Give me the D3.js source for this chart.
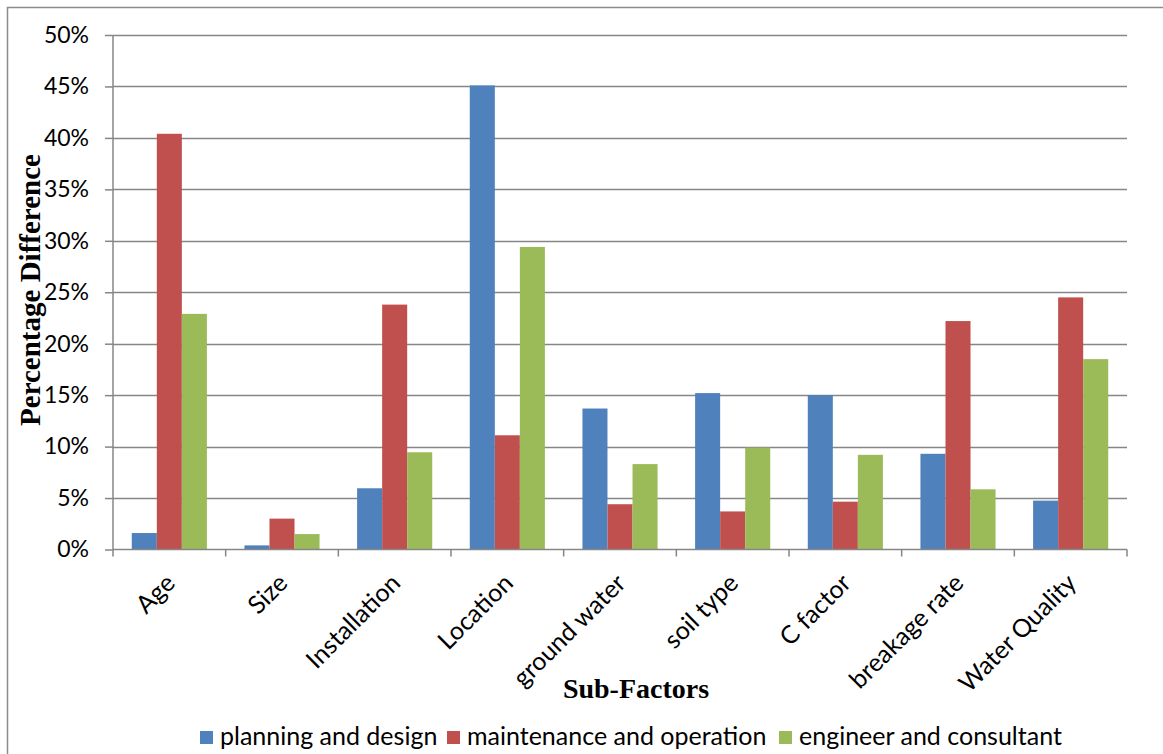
<!DOCTYPE html>
<html>
<head>
<meta charset="utf-8">
<script src="https://cdn.jsdelivr.net/npm/d3@7/dist/d3.min.js"></script>
<style>
  html, body { margin: 0; padding: 0; background: #fff; }
  svg { display: block; }
</style>
</head>
<body>
<svg id="chart" width="1163" height="754"></svg>
<script>
// Sub-factor categories along the x axis
const categories = ["Age", "Size", "Installation", "Location", "ground water",
                    "soil type", "C factor", "breakage rate", "Water Quality"];

// Percentage difference per group (in %)
const planningDesign     = [1.6, 0.4, 5.95, 45.1, 13.7, 15.2, 15.0, 9.3, 4.75];
const maintenanceOp      = [40.4, 3.0, 23.8, 11.1, 4.4, 3.7, 4.65, 22.2, 24.5];
const engineerConsultant = [22.9, 1.5, 9.45, 29.4, 8.3, 9.9, 9.2, 5.85, 18.5];

const seriesNames = ["planning and design", "maintenance and operation", "engineer and consultant"];
const seriesColors = ["#4F81BD", "#C0504D", "#9BBB59"];
const yTicks = [0, 5, 10, 15, 20, 25, 30, 35, 40, 45, 50];

const series = [planningDesign, maintenanceOp, engineerConsultant];

const svg = d3.select("#chart");
const plot = { left: 113, right: 1127, top: 35, bottom: 549.5 };
const sansFont = "Lato, 'Open Sans', sans-serif";
const serifFont = "'Liberation Serif', 'Times New Roman', serif";
const axisGrey = "#868686";

// Outer chart frame
svg.append("rect")
  .attr("x", 7.5).attr("y", 7.5)
  .attr("width", 1200).attr("height", 800)
  .attr("fill", "#fff").attr("stroke", "#8c8c8c").attr("stroke-width", 1.5);

// Category bands; each band holds three bars with a 150% gap
const x = d3.scaleBand().domain(categories).range([plot.left, plot.right]).padding(0);
const barW = x.bandwidth() / 4.5;

const y = d3.scaleLinear().domain([0, 50]).range([plot.bottom, plot.top]);

// Horizontal gridlines
svg.append("g")
  .selectAll("line").data(yTicks.filter(d => d > 0)).join("line")
  .attr("x1", plot.left).attr("x2", plot.right)
  .attr("y1", d => Math.round(y(d)) + 0.5).attr("y2", d => Math.round(y(d)) + 0.5)
  .attr("stroke", axisGrey).attr("stroke-width", 1.5);

// Bars
series.forEach((vals, si) => {
  svg.append("g")
    .selectAll("rect").data(categories.map((c, i) => ({ c, v: vals[i] }))).join("rect")
    .attr("x", d => x(d.c) + (x.bandwidth() - 3 * barW) / 2 + si * barW)
    .attr("width", barW)
    .attr("y", d => y(d.v))
    .attr("height", d => y(0) - y(d.v))
    .attr("fill", seriesColors[si]);
});

// Y axis
const yAxis = d3.axisLeft(y).tickValues(yTicks).tickSize(8).tickPadding(16)
  .tickFormat(d => d + "%");
const yg = svg.append("g").attr("transform", `translate(${plot.left},0)`).call(yAxis);
yg.select(".domain").attr("stroke", axisGrey).attr("stroke-width", 1.5)
  .attr("d", `M0,${plot.top}V${plot.bottom}`);
yg.selectAll(".tick line").attr("stroke", axisGrey).attr("stroke-width", 1.5);
yg.selectAll(".tick text")
  .attr("font-family", sansFont)
  .attr("font-size", 23).attr("fill", "#000");

// X axis line with boundary ticks between categories
svg.append("line")
  .attr("x1", plot.left).attr("x2", plot.right)
  .attr("y1", plot.bottom).attr("y2", plot.bottom)
  .attr("stroke", axisGrey).attr("stroke-width", 1.5);
svg.append("g").selectAll("line").data(categories.concat([null])).join("line")
  .attr("x1", (c, i) => plot.left + i * x.bandwidth())
  .attr("x2", (c, i) => plot.left + i * x.bandwidth())
  .attr("y1", plot.bottom).attr("y2", plot.bottom + 7)
  .attr("stroke", axisGrey).attr("stroke-width", 1.5);

// Category labels rotated -45°
svg.append("g").selectAll("text").data(categories).join("text")
  .attr("transform", c => {
    const cx = x(c) + x.bandwidth() / 2 + 1;
    return `translate(${cx},${plot.bottom + 29}) rotate(-45)`;
  })
  .attr("text-anchor", "end")
  .attr("dy", "0.35em")
  .attr("font-family", sansFont)
  .attr("font-size", 25).attr("fill", "#000")
  .text(d => d);

// Axis titles
svg.append("text")
  .attr("transform", "translate(40,290) rotate(-90)")
  .attr("text-anchor", "middle")
  .attr("font-family", serifFont)
  .attr("font-weight", "bold").attr("font-size", 29).attr("fill", "#000")
  .text("Percentage Difference");

svg.append("text")
  .attr("x", 636).attr("y", 698)
  .attr("text-anchor", "middle")
  .attr("font-family", serifFont)
  .attr("font-weight", "bold").attr("font-size", 28).attr("fill", "#000")
  .text("Sub-Factors");

// Legend
const legendX = [200, 447, 779];
const lg = svg.append("g");
seriesNames.forEach((name, i) => {
  lg.append("rect")
    .attr("x", legendX[i]).attr("y", 731).attr("width", 13).attr("height", 13)
    .attr("fill", seriesColors[i]);
  lg.append("text")
    .attr("x", legendX[i] + 20).attr("y", 745)
    .attr("font-family", sansFont)
    .attr("font-size", 25).attr("fill", "#000")
    .text(name);
});
</script>
</body>
</html>
